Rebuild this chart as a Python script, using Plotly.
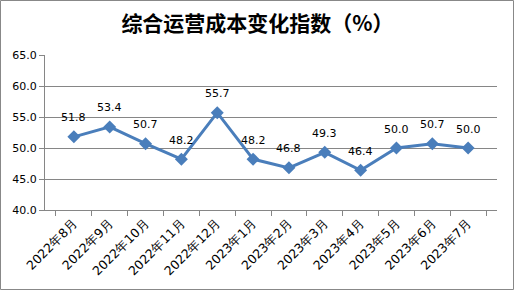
import plotly.graph_objects as go

categories = ["2022年8月", "2022年9月", "2022年10月", "2022年11月", "2022年12月", "2023年1月",
              "2023年2月", "2023年3月", "2023年4月", "2023年5月", "2023年6月", "2023年7月"]
values = [51.8, 53.4, 50.7, 48.2, 55.7, 48.2, 46.8, 49.3, 46.4, 50.0, 50.7, 50.0]
y_ticks = [40, 45, 50, 55, 60, 65]

W, H = 515, 291
ml, mr, mt, mb = 45, 18, 55, 81
pw, ph = W - ml - mr, H - mt - mb

fig = go.Figure()
fig.add_trace(go.Scatter(
    x=categories, y=values, mode="lines+markers",
    line=dict(color="#4A7EBB", width=3),
    marker=dict(symbol="diamond", size=10, color="#4A7EBB"),
    cliponaxis=False, showlegend=False,
))

annotations = [dict(x=c, y=v, xref="x", yref="y", text=f"{v:.1f}", showarrow=False,
                    yshift=19, font=dict(family="DejaVu Sans", size=11, color="#000000"))
               for c, v in zip(categories, values)]

def px(xp):
    return (xp - ml) / pw

def py(yp):
    return (H - mb - yp) / ph

fig.update_layout(
    width=W, height=H,
    margin=dict(l=ml, r=mr, t=mt, b=mb),
    paper_bgcolor="white", plot_bgcolor="white",
    title=dict(text="<b>综合运营成本变化指数（%）</b>", x=0.5, xanchor="center",
               y=1 - 24 / H, yanchor="middle",
               font=dict(family="Noto Sans CJK SC", size=21, color="#000000")),
    xaxis=dict(tickangle=-45, tickson="boundaries", ticks="outside", ticklen=5,
               tickcolor="#868686", showline=True, linecolor="#868686", linewidth=1,
               showgrid=False,
               tickfont=dict(family="DejaVu Sans", size=12.5, color="#000000")),
    yaxis=dict(range=[40, 65], tickvals=y_ticks, ticktext=[f"{v:.1f}" for v in y_ticks],
               ticks="outside", ticklen=5, tickcolor="#868686",
               showline=True, linecolor="#868686", linewidth=1,
               showgrid=True, gridcolor="#868686", gridwidth=1, zeroline=False,
               tickfont=dict(family="DejaVu Sans", size=11, color="#000000")),
    annotations=annotations,
    shapes=[dict(type="rect", xref="paper", yref="paper",
                 x0=px(0.5), x1=px(513.5), y0=py(0.5), y1=py(289.5),
                 line=dict(color="#888888", width=1), fillcolor="rgba(0,0,0,0)", layer="below")],
)

fig.write_html("out.html")
